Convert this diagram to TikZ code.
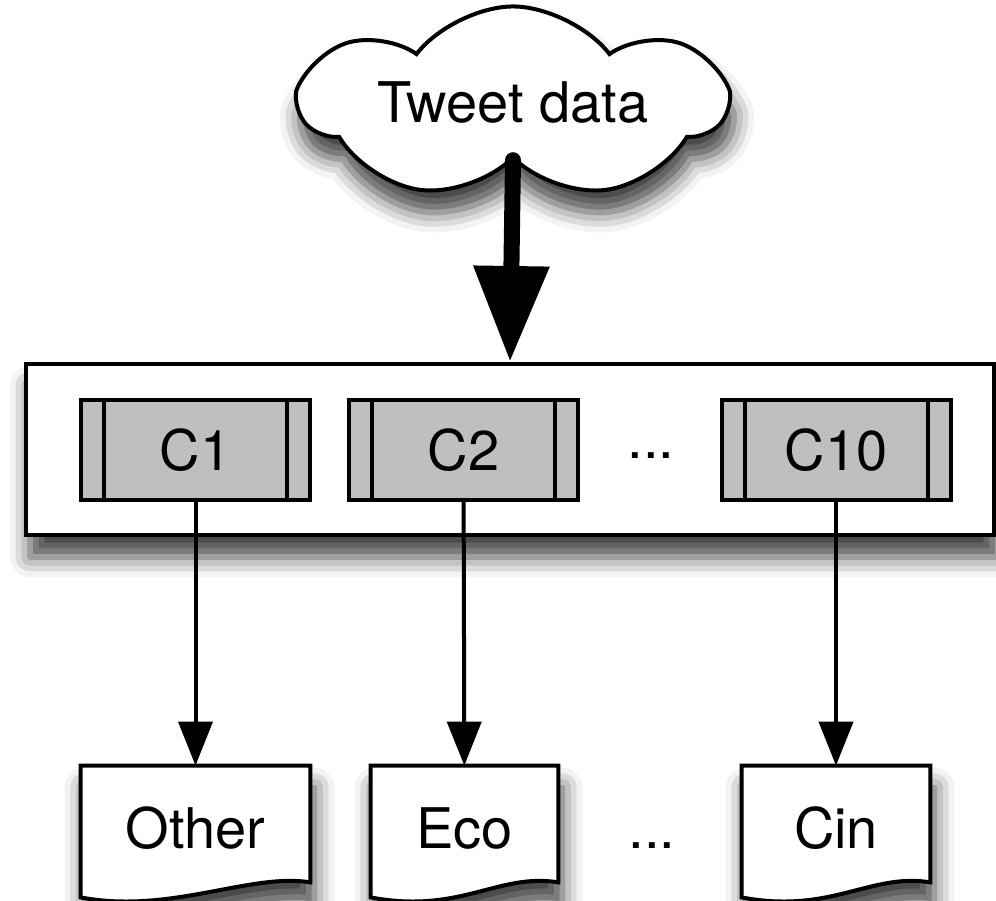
\documentclass[tikz,border=0pt]{standalone}
\usepackage{fontspec}
\setmainfont{TeX Gyre Heros}
\usetikzlibrary{arrows.meta,shapes.symbols,shadows.blur}

\tikzset{
  softshadow/.style={blur shadow={shadow xshift=2pt,shadow yshift=-11pt,shadow blur radius=10pt,shadow opacity=75}},
  panel/.style={draw,line width=2pt,fill=white,minimum width=484pt,minimum height=85.5pt,softshadow},
  classifier/.style={draw,line width=2pt,fill=black!25,minimum width=114.5pt,minimum height=50pt,
    path picture={\draw[line width=2pt]
      ([xshift=11.5pt]path picture bounding box.north west) -- ([xshift=11.5pt]path picture bounding box.south west)
      ([xshift=-11.5pt]path picture bounding box.north east) -- ([xshift=-11.5pt]path picture bounding box.south east);}},
  docnode/.style={minimum height=62pt,inner sep=0pt},
  flow/.style={line width=2pt,draw=black,fill=black,opacity=1,-{Triangle[length=22pt,width=17pt]}},
}
\newcommand\docpage[1]{%
  \draw[line width=2pt,fill=white,softshadow]
    (#1.north west) -- (#1.north east) -- ([yshift=4pt]#1.south east)
    .. controls ([xshift=-30pt,yshift=9pt]#1.south east) and ([xshift=45pt,yshift=-12pt]#1.south west)
    .. ([yshift=-3.5pt]#1.south west) -- cycle;}

\begin{document}
\begin{tikzpicture}[x=0.5pt,y=-0.5pt,font=\fontsize{28}{32}\selectfont]
  \useasboundingbox (0,0) rectangle (996,900);
  \node[cloud,cloud puffs=7,cloud puff arc=105,aspect=3.1,inner sep=0pt,draw,line width=2pt,fill=white,
    minimum width=212pt,minimum height=70pt,softshadow] (tweets) at (513,103) {Tweet data};
  \node[panel] (pool) at (510,449.5) {};
  \node[classifier] (c1) at (195.5,450) {C1};
  \node[classifier] (c2) at (463.5,450) {C2};
  \node[classifier] (c10) at (836,450) {C10};
  \node (dotsc) at (651,456) {...};
  \draw[line width=8pt,line cap=round,-{Triangle[length=48pt,width=36pt]}] (tweets.south) -- (pool.north);
  \node[docnode,minimum width=114.5pt] (other) at (195.5,828) {};
  \node[docnode,minimum width=93.5pt] (eco) at (464.5,828) {};
  \node[docnode,minimum width=94pt] (cin) at (836,828) {};
  \draw[flow] (c1) -- (other);
  \draw[flow] (c2) -- (eco);
  \draw[flow] (c10) -- (cin);
  \docpage{other} \docpage{eco} \docpage{cin}
  \node at (other) {Other};
  \node at (eco) {Eco};
  \node at (cin) {Cin};
  \node (dotsd) at (652,846) {...};
\end{tikzpicture}
\end{document}
